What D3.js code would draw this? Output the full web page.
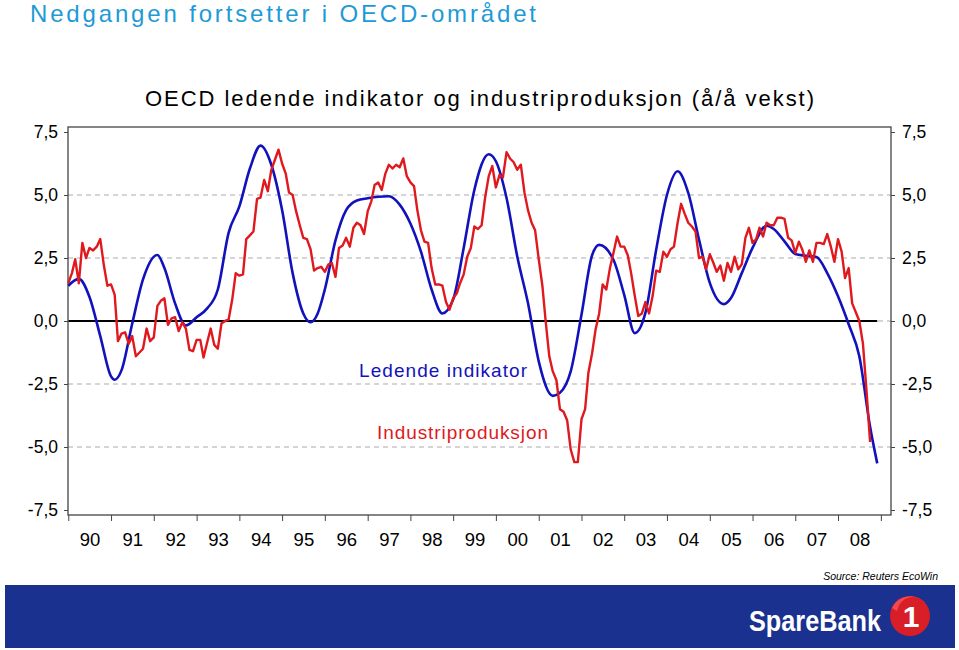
<!DOCTYPE html>
<html>
<head>
<meta charset="utf-8">
<script src="https://cdn.jsdelivr.net/npm/d3@7"></script>
<style>
  html, body { margin: 0; padding: 0; background: #ffffff; }
  svg { display: block; font-family: "Liberation Sans", Arial, sans-serif; }
</style>
</head>
<body>
<svg id="chart" width="959" height="650"></svg>
<script>
// ---------- DATA ----------
const yearLabels = ["90","91","92","93","94","95","96","97","98","99","00","01","02","03","04","05","06","07","08"];
const yTicks = [7.5, 5.0, 2.5, 0.0, -2.5, -5.0, -7.5];
const gridValues = [5.0, 2.5, 0.0, -2.5, -5.0];

// Industriproduksjon, monthly, starting Jan 1990 (å/å %)
const redStart = "1990-01";
const redValues = [
  1.5, 1.9, 2.45, 1.5, 3.1, 2.5, 2.9, 2.8, 2.95, 3.25, 2.2, 1.4,
  1.45, 1.05, -0.8, -0.5, -0.45, -0.9, -0.6, -1.4, -1.25, -1.1, -0.3, -0.8,
  -0.65, 0.6, 0.8, 0.9, -0.15, 0.1, 0.15, -0.4, -0.05, -0.3, -1.15, -1.2,
  -0.75, -0.75, -1.45, -0.85, -0.3, -0.95, -1.1, -0.1, 0.0, 0.05, 0.85, 1.9,
  1.8, 1.85, 3.25, 3.4, 3.55, 4.85, 4.9, 5.6, 5.15, 6.0, 6.4, 6.8,
  6.25, 5.85, 5.1, 5.0, 4.35, 3.8, 3.3, 3.25, 2.85, 2.0, 2.1, 2.15,
  1.95, 2.25, 2.3, 1.75, 2.9, 3.0, 3.3, 2.95, 3.7, 3.9, 3.8, 3.45,
  4.35, 4.75, 5.4, 5.5, 5.2, 5.85, 6.2, 6.05, 6.2, 6.1, 6.45, 5.75,
  5.5, 5.35, 4.4, 3.6, 3.15, 3.1, 2.1, 1.45, 1.45, 1.4, 0.75, 0.45,
  0.9, 1.1, 1.5, 1.85, 2.55, 2.9, 3.75, 3.65, 3.8, 4.9, 5.75, 6.15,
  5.3, 5.8, 5.7, 6.7, 6.45, 6.3, 6.0, 6.2, 5.1, 4.4, 3.9, 3.6,
  2.45, 1.4, 0.0, -1.4, -2.0, -2.35, -3.5, -3.6, -3.95, -5.1, -5.6, -5.6,
  -3.9, -3.5, -2.05, -1.3, -0.35, 0.3, 1.45, 1.25, 2.1, 2.7, 3.35, 2.95,
  2.95, 2.6, 1.9, 1.0, 0.2, 0.3, 0.75, 0.3, 1.0, 2.0, 1.95, 2.75,
  2.55, 2.85, 2.95, 3.9, 4.65, 4.25, 3.9, 3.75, 3.55, 2.5, 2.55, 2.05,
  2.65, 2.3, 1.95, 2.2, 1.6, 2.3, 1.95, 2.55, 2.05, 2.25, 3.3, 3.7,
  3.1, 3.25, 3.7, 3.35, 3.9, 3.8, 3.8, 4.1, 4.1, 4.05, 3.3, 3.2,
  2.7, 3.15, 2.85, 2.35, 2.8, 2.35, 3.1, 3.1, 3.05, 3.45, 2.95, 2.35,
  3.25, 2.75, 1.7, 2.1, 0.7, 0.35, 0.0, -0.9, -2.8, -4.8
];

// Ledende indikator (smooth series), read at these months
const blueDates = [
  "1990-01","1990-04","1990-07","1990-10","1991-01","1991-02","1991-04","1991-07","1991-10",
  "1992-02","1992-04","1992-07","1992-10","1993-01","1993-04","1993-07","1993-10",
  "1994-01","1994-04","1994-07","1994-10","1995-01","1995-04","1995-07","1995-09","1995-11",
  "1996-01","1996-04","1996-07","1996-10","1997-01","1997-04","1997-07","1997-10",
  "1998-01","1998-04","1998-07","1998-10","1999-01","1999-04","1999-07","1999-11",
  "2000-01","2000-04","2000-07","2000-10","2001-01","2001-05","2001-07","2001-10",
  "2002-01","2002-04","2002-06","2002-10","2003-01","2003-04","2003-07","2003-10",
  "2004-01","2004-04","2004-07","2004-10","2005-01","2005-05","2005-07","2005-10",
  "2006-01","2006-05","2006-07","2006-10","2007-01","2007-04","2007-07","2007-10",
  "2008-01","2008-04","2008-07","2008-10","2008-12"
];
const blueValues = [
  1.4, 1.67, 0.95, -0.6, -2.2, -2.33, -1.95, -0.1, 1.65,
  2.62, 2.1, 0.7, -0.18, 0.15, 0.5, 1.25, 3.5,
  4.55, 6.05, 6.96, 6.2, 4.4, 1.9, 0.3, -0.05, 0.3,
  1.25, 3.2, 4.4, 4.78, 4.87, 4.93, 4.95, 4.62,
  3.87, 2.75, 1.25, 0.3, 0.85, 2.9, 5.2, 6.62,
  6.34, 4.88, 2.57, 0.71, -1.6, -2.97, -2.85, -2.0,
  0.25, 2.6, 3.02, 2.43, 1.04, -0.48, 0.32, 2.83,
  5.0, 5.94, 5.08, 3.23, 1.51, 0.67, 0.91, 1.9,
  2.9, 3.78, 3.65, 3.16, 2.66, 2.59, 2.54, 1.9,
  0.98, -0.13, -1.4, -4.2, -5.65
];

// ---------- LAYOUT ----------
(function draw() {
const svg = d3.select("#chart");
const parseMonth = d3.utcParse("%Y-%m");
const pL = 68, pR = 891, pT = 127, pB = 515;

const x = d3.scaleUtc()
  .domain([Date.UTC(1990, 0, 1), Date.UTC(2009, 3, 1)])
  .range([68.3, 891.4]);
const y = d3.scaleLinear().domain([-7.5, 7.5]).range([510, 132]);

const loc = d3.formatLocale({decimal: ",", thousands: " ", grouping: [3], currency: ["", ""], minus: "-"});
const fmt = loc.format(".1f");

const s0 = parseMonth(redStart);
const red = redValues.map((v, i) => ({date: d3.utcMonth.offset(s0, i), value: v}));
const blue = blueDates.map((d, i) => ({date: parseMonth(d), value: blueValues[i]}));

svg.append("rect").attr("width", 959).attr("height", 650).attr("fill", "#ffffff");

// Titles
svg.append("text")
  .attr("x", 30).attr("y", 22)
  .attr("font-size", 24).attr("fill", "#1e9ad6")
  .attr("textLength", 506).attr("lengthAdjust", "spacing")
  .text("Nedgangen fortsetter i OECD-området");

svg.append("text")
  .attr("x", 145).attr("y", 106)
  .attr("font-size", 22).attr("fill", "#000")
  .attr("textLength", 669).attr("lengthAdjust", "spacing")
  .text("OECD ledende indikator og industriproduksjon (å/å vekst)");

// Gridlines
svg.append("g").selectAll("line").data(gridValues).join("line")
  .attr("x1", pL).attr("x2", pR)
  .attr("y1", d => y(d)).attr("y2", d => y(d))
  .attr("stroke", "#c8c8c8").attr("stroke-width", 1.3)
  .attr("stroke-dasharray", "5,4");

// Zero line over data range
svg.append("line")
  .attr("x1", x(parseMonth("1990-01"))).attr("x2", x(parseMonth("2008-12")))
  .attr("y1", y(0)).attr("y2", y(0))
  .attr("stroke", "#000").attr("stroke-width", 2);

// Frame
svg.append("rect")
  .attr("x", pL).attr("y", pT).attr("width", pR - pL).attr("height", pB - pT)
  .attr("fill", "none").attr("stroke", "#444").attr("stroke-width", 1.3);

// Axes
const axL = d3.axisLeft(y).tickValues(yTicks).tickSize(4).tickPadding(6).tickFormat(fmt);
const gL = svg.append("g").attr("transform", `translate(${pL},0)`).call(axL);
const axR = d3.axisRight(y).tickValues(yTicks).tickSize(4).tickPadding(7).tickFormat(fmt);
const gR = svg.append("g").attr("transform", `translate(${pR},0)`).call(axR);
[gL, gR].forEach(g => {
  g.select(".domain").remove();
  g.selectAll("line").attr("stroke", "#444");
  g.selectAll("text").attr("font-size", 17.5).attr("fill", "#000")
    .attr("font-family", "'Liberation Sans', Arial, sans-serif");
});

const yearTicks = d3.range(1990, 2010).map(yr => new Date(Date.UTC(yr, 0, 1)));
const axB = d3.axisBottom(x).tickValues(yearTicks).tickSize(6).tickFormat("");
const gB = svg.append("g").attr("transform", `translate(0,${pB})`).call(axB);
gB.select(".domain").remove();
gB.selectAll("line").attr("stroke", "#444");

const midYears = yearLabels.map((l, i) => new Date(Date.UTC(1990 + i, 6, 2)));
const axLab = d3.axisBottom(x).tickValues(midYears).tickSize(0).tickPadding(0)
  .tickFormat((d, i) => yearLabels[i]);
const gLab = svg.append("g").attr("transform", `translate(0,${pB})`).call(axLab);
gLab.select(".domain").remove();
gLab.selectAll("text").attr("font-size", 18.5).attr("fill", "#000").attr("dy", null).attr("y", 31)
  .attr("font-family", "'Liberation Sans', Arial, sans-serif");

// Lines
const lineBlue = d3.line().x(d => x(d.date)).y(d => y(d.value)).curve(d3.curveMonotoneX);
const lineRed = d3.line().x(d => x(d.date)).y(d => y(d.value));

svg.append("path").datum(blue).attr("d", lineBlue)
  .attr("fill", "none").attr("stroke", "#1212bc").attr("stroke-width", 2.6)
  .attr("stroke-linejoin", "round");
svg.append("path").datum(red).attr("d", lineRed)
  .attr("fill", "none").attr("stroke", "#e0191e").attr("stroke-width", 2.4)
  .attr("stroke-linejoin", "round");

// Legend labels
svg.append("text").attr("x", 359).attr("y", 377)
  .attr("font-size", 19).attr("fill", "#1212bc")
  .attr("textLength", 168).attr("lengthAdjust", "spacing")
  .text("Ledende indikator");
svg.append("text").attr("x", 377).attr("y", 439)
  .attr("font-size", 19).attr("fill", "#e0191e")
  .attr("textLength", 171).attr("lengthAdjust", "spacing")
  .text("Industriproduksjon");

// Source
svg.append("text").attr("x", 938).attr("y", 580)
  .attr("text-anchor", "end").attr("font-size", 10.5).attr("font-style", "italic")
  .attr("fill", "#000").text("Source: Reuters EcoWin");

// Footer band
svg.append("rect").attr("x", 5).attr("y", 585).attr("width", 950).attr("height", 63)
  .attr("fill", "#1a3190");
svg.append("text").attr("x", 749).attr("y", 631)
  .attr("font-size", 29).attr("font-weight", "bold").attr("fill", "#ffffff")
  .attr("textLength", 132).attr("lengthAdjust", "spacingAndGlyphs")
  .text("SpareBank");
svg.append("circle").attr("cx", 910).attr("cy", 616).attr("r", 20).attr("fill", "#d81e26");
svg.append("path")
  .attr("d", "M 892 608 A 20 20 0 0 1 926 604 A 16 16 0 0 0 897 611 Z")
  .attr("fill", "#f04a50");
svg.append("text").attr("x", 911).attr("y", 627)
  .attr("text-anchor", "middle").attr("font-size", 30).attr("font-weight", "bold")
  .attr("fill", "#ffffff").text("1");
})();
</script>
</body>
</html>
